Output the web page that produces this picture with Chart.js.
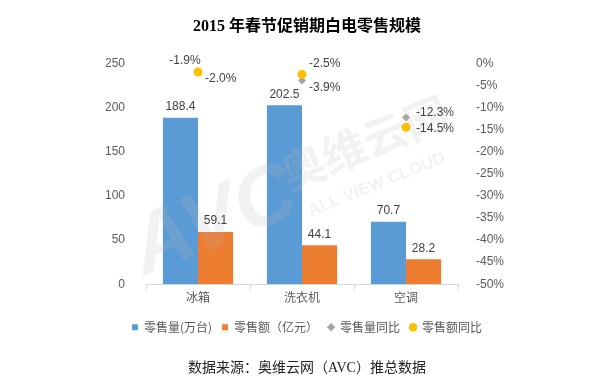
<!DOCTYPE html>
<html>
<head>
<meta charset="utf-8">
<script src="https://cdn.jsdelivr.net/npm/chart.js@4"></script>
<style>
  html, body { margin: 0; padding: 0; background: #fff; }
  #wrap { width: 600px; height: 383px; }
</style>
</head>
<body>
<div id="wrap"><canvas id="c" width="600" height="383"></canvas></div>
<script>
const categories = ['冰箱', '洗衣机', '空调'];
const volume = [188.4, 202.5, 70.7];          // 零售量(万台)
const revenue = [59.1, 44.1, 28.2];           // 零售额（亿元）
const volumeYoY = [-1.9, -3.9, -12.3];        // 零售量同比 (%)
const revenueYoY = [-2.0, -2.5, -14.5];       // 零售额同比 (%)
const leftTicks = [0, 50, 100, 150, 200, 250];
const rightTicks = [0, -5, -10, -15, -20, -25, -30, -35, -40, -45, -50];
const seriesNames = ['零售量(万台)', '零售额（亿元）', '零售量同比', '零售额同比'];
const titleText = '2015 年春节促销期白电零售规模';
const sourceText = '数据来源：奥维云网（AVC）推总数据';

// label placements for the percentage points (style, not data)
const volumeYoYPlace = ['aboveLeft', 'belowRight', 'right'];
const revenueYoYPlace = ['belowRight', 'aboveRight', 'rightLow'];

const SANS = "'Liberation Sans', Arial, 'Noto Sans CJK SC', sans-serif";
const CJK = "'Noto Sans CJK SC', 'Liberation Sans', sans-serif";
const SERIF = "'Liberation Serif', 'Noto Sans CJK SC', serif";

const placeOffsets = {
  aboveLeft:  { dx: -13, dy: -11, align: 'center' },
  belowRight: { dx: 7,   dy: 7,   align: 'left' },
  aboveRight: { dx: 7,   dy: -11, align: 'left' },
  right:      { dx: 10,  dy: -5,  align: 'left' },
  rightLow:   { dx: 10,  dy: 1,   align: 'left' }
};

const watermark = {
  id: 'watermark',
  afterDatasetsDraw(chart) {
    const ctx = chart.ctx;
    const a = chart.chartArea;
    const w = a.right - a.left, h = a.bottom - a.top;
    ctx.save();
    ctx.fillStyle = 'rgba(185,185,185,0.18)';
    ctx.textAlign = 'center';
    ctx.textBaseline = 'middle';
    const rot = -22 * Math.PI / 180;
    const put = (txt, fx, fy, font) => {
      ctx.save();
      ctx.translate(a.left + w * fx, a.top + h * fy);
      ctx.rotate(rot);
      ctx.font = font;
      ctx.fillText(txt, 0, 0);
      ctx.restore();
    };
    put('AVC', 0.22, 0.72, "italic bold 84px 'Liberation Sans', Arial, sans-serif");
    put('奥维云网', 0.70, 0.36, "bold 44px 'Noto Sans CJK SC', sans-serif");
    put('ALL VIEW CLOUD', 0.74, 0.55, "bold 17px 'Liberation Sans', Arial, sans-serif");
    ctx.restore();
  }
};

const valueLabels = {
  id: 'valueLabels',
  afterDatasetsDraw(chart) {
    const ctx = chart.ctx;
    ctx.save();
    ctx.font = "12px " + SANS;
    ctx.fillStyle = '#404040';
    chart.data.datasets.forEach((ds, di) => {
      const meta = chart.getDatasetMeta(di);
      meta.data.forEach((el, i) => {
        const v = ds.data[i];
        if (ds.type === 'bar') {
          ctx.textAlign = 'center';
          ctx.textBaseline = 'bottom';
          ctx.fillText(v.toFixed(1), el.x, el.y - 5);
        } else {
          const p = placeOffsets[ds.labelPlace[i]];
          ctx.textAlign = p.align;
          ctx.textBaseline = 'middle';
          ctx.fillText(v.toFixed(1) + '%', el.x + p.dx, el.y + p.dy);
        }
      });
    });
    ctx.restore();
  }
};

new Chart(document.getElementById('c'), {
  data: {
    labels: categories,
    datasets: [
      { type: 'bar', label: seriesNames[0], data: volume, backgroundColor: '#5B9BD5',
        yAxisID: 'y', order: 3, pointStyle: 'rect',
        categoryPercentage: 0.675, barPercentage: 1.0 },
      { type: 'bar', label: seriesNames[1], data: revenue, backgroundColor: '#ED7D31',
        yAxisID: 'y', order: 3, pointStyle: 'rect',
        categoryPercentage: 0.675, barPercentage: 1.0 },
      { type: 'line', label: seriesNames[2], data: volumeYoY, yAxisID: 'y1', order: 1,
        showLine: false, pointStyle: 'rectRot', pointRadius: 4, pointHoverRadius: 4,
        backgroundColor: '#A5A5A5', borderColor: '#A5A5A5', borderWidth: 0,
        labelPlace: volumeYoYPlace },
      { type: 'line', label: seriesNames[3], data: revenueYoY, yAxisID: 'y1', order: 0,
        showLine: false, pointStyle: 'circle', pointRadius: 4.5, pointHoverRadius: 4.5,
        backgroundColor: '#FFC000', borderColor: '#FFC000', borderWidth: 0,
        labelPlace: revenueYoYPlace }
    ]
  },
  options: {
    responsive: false,
    animation: false,
    devicePixelRatio: 1,
    layout: { padding: { left: 106, right: 92, top: 0, bottom: 0 } },
    plugins: {
      tooltip: { enabled: false },
      title: {
        display: true, text: titleText, color: '#000',
        font: { family: SERIF, size: 16, weight: 'bold' },
        padding: { top: 17, bottom: 27 }
      },
      subtitle: {
        display: true, text: sourceText, position: 'bottom', color: '#222',
        font: { family: SERIF, size: 14, weight: 'normal' },
        padding: { top: 17, bottom: 6 }
      },
      legend: {
        position: 'bottom',
        labels: {
          usePointStyle: true, boxWidth: 6, boxHeight: 6, padding: 10,
          color: '#595959', font: { family: CJK, size: 12 },
          sort: (a, b) => a.datasetIndex - b.datasetIndex
        }
      }
    },
    scales: {
      x: {
        offset: true,
        grid: { display: true, drawOnChartArea: false, drawTicks: true, tickLength: 5, color: '#D9D9D9', offset: true },
        border: { display: true, color: '#D9D9D9' },
        ticks: { color: '#595959', font: { family: CJK, size: 12 }, padding: 1 },
        afterFit(s) { s.height = 27; }
      },
      y: {
        position: 'left', min: 0, max: 250,
        grid: { display: false }, border: { display: false },
        ticks: { color: '#595959', font: { family: SANS, size: 12 }, padding: 13 },
        afterBuildTicks(s) { s.ticks = leftTicks.map(v => ({ value: v })); },
        afterFit(s) { s.width = 40; }
      },
      y1: {
        position: 'right', min: -50, max: 0,
        grid: { display: false }, border: { display: false },
        ticks: { color: '#595959', font: { family: SANS, size: 12 }, padding: 10,
                 callback: v => v + '%' },
        afterBuildTicks(s) { s.ticks = rightTicks.map(v => ({ value: v })); },
        afterFit(s) { s.width = 50; }
      }
    }
  },
  plugins: [watermark, valueLabels]
});
</script>
</body>
</html>
